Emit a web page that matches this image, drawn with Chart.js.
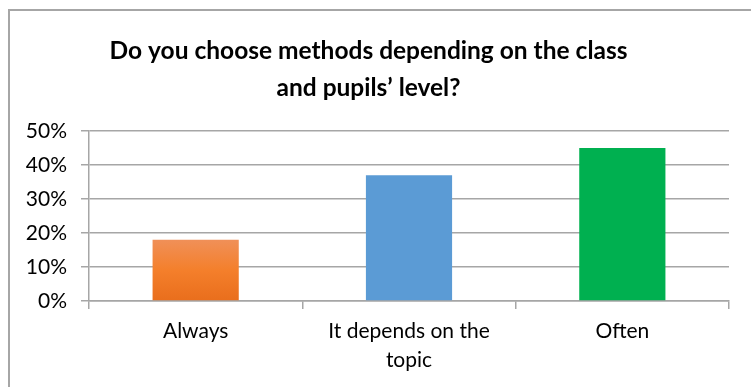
<!DOCTYPE html>
<html>
<head>
<meta charset="utf-8">
<script src="https://cdn.jsdelivr.net/npm/chart.js@4/dist/chart.umd.min.js"></script>
<style>
  html, body { margin: 0; padding: 0; background: #fff; }
  #wrap { position: relative; width: 751px; height: 387px; overflow: hidden; }
  #frame { position: absolute; left: 8px; top: 9px; width: 760px; height: 400px;
           border-top: 2px solid #a6a6a6; border-left: 2px solid #a6a6a6; box-sizing: border-box; }
  #myChart { position: absolute; left: 0; top: 0; }
</style>
</head>
<body>
<div id="wrap">
  <div id="frame"></div>
  <canvas id="myChart" width="751" height="387"></canvas>
</div>
<script>
// data
var titleLines = ['Do you choose methods depending on the class', 'and pupils\u2019 level?'];
var categories = ['Always', ['It depends on the', 'topic'], 'Often'];
var shares = [18, 37, 45];
var yMax = 50;
var yStep = 10;

var barColors = ['orange', '#5b9bd5', '#00b050'];

var fontName = 'Lato, "Open Sans", sans-serif';

var ctx = document.getElementById('myChart');

// orange bar gets the vertical gradient like the original
var barFill = function(context) {
  var chart = context.chart;
  var col = barColors[context.dataIndex];
  if (col !== 'orange') return col;
  if (!chart.chartArea) return '#f07c2a';
  var y = chart.scales.y;
  var top = y.getPixelForValue(shares[context.dataIndex]);
  var bottom = y.getPixelForValue(0);
  var g = chart.ctx.createLinearGradient(0, top, 0, bottom);
  g.addColorStop(0, '#f09058');
  g.addColorStop(0.5, '#f47f2b');
  g.addColorStop(1, '#e96e1c');
  return g;
};

var myChart = new Chart(ctx, {
  type: 'bar',
  data: {
    labels: categories,
    datasets: [{
      data: shares,
      backgroundColor: barFill,
      borderWidth: 0,
      categoryPercentage: 1,
      barPercentage: 0.404
    }]
  },
  options: {
    responsive: false,
    animation: false,
    layout: { padding: { left: 8, right: 22, top: 12, bottom: 4 } },
    plugins: {
      legend: { display: false },
      tooltip: { enabled: false },
      title: {
        display: true,
        text: titleLines,
        color: '#000',
        font: { family: fontName, size: 24.5, weight: 'bold', lineHeight: 1.51 },
        padding: { top: 21, bottom: 24 }
      }
    },
    scales: {
      x: {
        grid: { drawOnChartArea: false, color: '#a6a6a6', lineWidth: 1.5, tickLength: 8 },
        border: { color: '#a6a6a6', width: 1.5 },
        ticks: { color: '#000', font: { family: fontName, size: 21, lineHeight: 1.38 }, padding: 8, maxRotation: 0 }
      },
      y: {
        min: 0,
        max: yMax,
        afterFit: function(scale) { scale.width = 81; },
        grid: { color: '#a6a6a6', lineWidth: 1.5, tickLength: 8 },
        border: { color: '#a6a6a6', width: 1.5 },
        ticks: {
          stepSize: yStep,
          color: '#000',
          padding: 14,
          font: { family: fontName, size: 21 },
          callback: function(v) { return v + '%'; }
        }
      }
    }
  }
});
</script>
</body>
</html>
